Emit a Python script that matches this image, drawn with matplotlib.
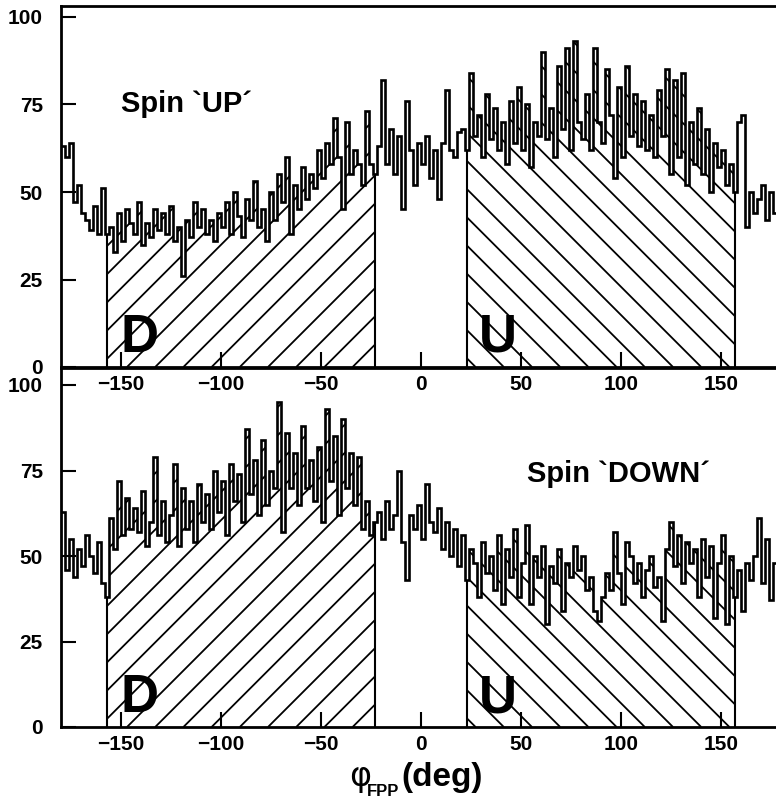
import numpy as np
import matplotlib
matplotlib.use('Agg')
import matplotlib.pyplot as plt
from matplotlib.patches import Polygon
from matplotlib.collections import LineCollection

plt.rcParams['font.family'] = ['Liberation Sans', 'DejaVu Sans']
plt.rcParams['font.weight'] = 'bold'

# 2-degree bins from -180 to 180
bin_edges = np.arange(-180, 181, 2)

up_counts = [
    63, 60, 64, 47, 52, 44, 42, 39, 46, 38,
    51, 38, 40, 33, 44, 36, 45, 41, 38, 47,
    35, 41, 37, 45, 39, 44, 38, 46, 36, 40,
    26, 42, 37, 47, 40, 45, 38, 42, 36, 44,
    40, 47, 38, 50, 43, 37, 48, 42, 53, 40,
    45, 36, 50, 42, 55, 47, 60, 38, 52, 45,
    57, 48, 55, 51, 62, 54, 64, 58, 71, 60,
    45, 70, 55, 62, 58, 52, 73, 58, 55, 63,
    82, 58, 68, 55, 66, 45, 76, 62, 52, 64,
    58, 66, 54, 62, 48, 64, 79, 62, 60, 67,
    68, 62, 84, 66, 72, 60, 78, 65, 74, 62,
    70, 58, 76, 64, 80, 62, 75, 57, 70, 66,
    90, 65, 74, 60, 86, 68, 91, 62, 93, 70,
    65, 78, 62, 91, 70, 64, 85, 72, 54, 80,
    60, 86, 66, 78, 63, 76, 62, 72, 60, 79,
    66, 85, 55, 82, 60, 84, 52, 70, 58, 74,
    55, 68, 50, 64, 57, 62, 52, 58, 50, 70,
    72, 40, 50, 44, 48, 52, 42, 50, 44, 48,
]

down_counts = [
    63, 46, 55, 44, 52, 47, 56, 50, 45, 54,
    42, 38, 61, 52, 72, 56, 67, 58, 64, 57,
    69, 53, 60, 79, 56, 66, 54, 62, 77, 53,
    70, 58, 66, 54, 71, 60, 68, 58, 75, 63,
    72, 56, 77, 66, 74, 60, 87, 68, 78, 62,
    84, 65, 75, 70, 95, 57, 86, 70, 80, 65,
    88, 70, 78, 66, 82, 60, 93, 72, 85, 62,
    90, 70, 80, 65, 79, 58, 66, 56, 60, 63,
    55, 66, 58, 62, 75, 54, 43, 62, 58, 65,
    55, 71, 60, 57, 64, 52, 60, 50, 58, 47,
    56, 43, 52, 48, 38, 54, 45, 50, 40, 56,
    36, 52, 44, 58, 38, 48, 59, 36, 50, 44,
    53, 30, 47, 42, 52, 34, 48, 44, 53, 46,
    50, 40, 44, 34, 31, 38, 45, 40, 57, 45,
    36, 54, 50, 42, 48, 38, 46, 50, 41, 44,
    31, 52, 60, 47, 56, 42, 54, 48, 52, 38,
    55, 44, 53, 32, 48, 56, 30, 50, 38, 46,
    34, 48, 43, 50, 61, 42, 55, 37, 48, 52,
]

d_range = (-157, -23)
u_range = (23, 157)
panel_titles = ['Spin `UP\u00b4', 'Spin `DOWN\u00b4']
title_pos = [(-150, 75), (53, 74)]
x_ticks = [-150, -100, -50, 0, 50, 100, 150]
y_ticks = [0, 25, 50, 75, 100]

W, H = 776, 800


def region_verts(edges, vals, a, b):
    inner = edges[(edges > a) & (edges < b)]
    xs = np.concatenate([[a], inner, [b]])
    mids = (xs[:-1] + xs[1:]) / 2
    idx = np.searchsorted(edges, mids) - 1
    h = np.asarray(vals)[idx]
    px = np.repeat(xs, 2)[1:-1]
    py = np.repeat(h, 2)
    verts = [(a, 0)] + list(zip(px, py)) + [(b, 0)]
    return verts, h[0], h[-1]


def hatch_region(ax, edges, vals, rng, direction, slope, start):
    a, b = rng
    verts, h0, h1 = region_verts(edges, vals, a, b)
    poly = Polygon(verts, closed=True, facecolor='none', edgecolor='none')
    ax.add_patch(poly)
    step = 14.1
    segs = []
    ytop = 110
    for c in np.arange(start - 30 * step, start + 30 * step, step):
        if direction > 0:
            segs.append([(c, 0), (c + ytop / slope, ytop)])
        else:
            segs.append([(c, 0), (c - ytop / slope, ytop)])
    lc = LineCollection(segs, colors='k', linewidths=1.3)
    ax.add_collection(lc)
    lc.set_clip_path(poly)
    ax.vlines([a, b], 0, [h0, h1], color='k', lw=1.5)


fig = plt.figure(figsize=(W / 100, H / 100), dpi=100)
ax1 = fig.add_axes([61 / W, 1 - 367 / H, 720 / W, 361 / H])
ax2 = fig.add_axes([61 / W, 1 - 727 / H, 720 / W, 359 / H])
ylims = [361 / 3.5, 359 / 3.42]
px_per_unit = [3.5, 3.42]

for ax, counts, title, tpos, ytop, ppu in zip([ax1, ax2], [up_counts, down_counts],
                                              panel_titles, title_pos, ylims, px_per_unit):
    ax.set_facecolor('none')
    ax.set_xlim(-180, 180)
    ax.set_ylim(0, ytop)
    slope = 2.0 / ppu
    hatch_region(ax, bin_edges, counts, d_range, 1, slope, -147)
    hatch_region(ax, bin_edges, counts, u_range, -1, slope, 55.5)
    ax.stairs(counts, bin_edges, color='k', lw=1.9, baseline=None)
    ax.text(tpos[0], tpos[1], title, fontsize=21, fontweight='bold', va='center', ha='left')
    ax.text(-150, 4.3, 'D', fontsize=38, fontweight='bold', va='baseline', ha='left')
    ax.text(29, 4.3, 'U', fontsize=38, fontweight='bold', va='baseline', ha='left')
    ax.set_xticks(x_ticks)
    ax.set_yticks(y_ticks)
    ax.tick_params(axis='both', direction='in', length=11, width=1.5, labelsize=15)
    ax.tick_params(axis='x', pad=6)
    ax.tick_params(axis='y', pad=13)
    for side in ['left', 'bottom', 'top']:
        ax.spines[side].set_linewidth(2)
    ax.spines['right'].set_visible(False)
    for lab in ax.get_xticklabels() + ax.get_yticklabels():
        lab.set_fontweight('bold')

# axis label: phi_FPP(deg)
fig.text(349 / W, 1 - 786 / H, '\u03c6', fontsize=24, family='DejaVu Sans',
         fontweight='normal', ha='left', va='baseline')
fig.text(367 / W, 1 - 796 / H, 'FPP', fontsize=12, fontweight='bold', ha='left', va='baseline')
fig.text(401 / W, 1 - 786 / H, '(deg)', fontsize=24, fontweight='bold', ha='left', va='baseline')

fig.savefig('out.png', dpi=100)
